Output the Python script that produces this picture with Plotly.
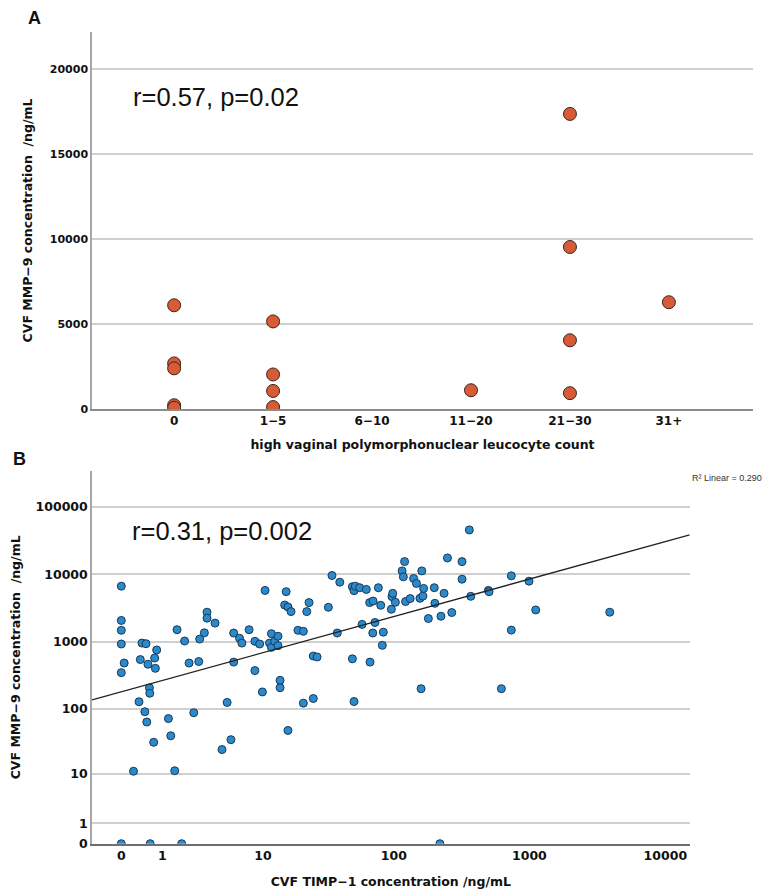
import numpy as np
import plotly.graph_objects as go

# ── Panel A: MMP-9 by high vaginal PMN count ────────────────────────────────
pmn_levels = ["0", "1−5", "6−10", "11−20", "21−30", "31+"]
pmn_category = ["0", "0", "0", "0", "0",
                "1−5", "1−5", "1−5", "1−5",
                "11−20",
                "21−30", "21−30", "21−30", "21−30",
                "31+"]
mmp9_a = [6110, 2690, 2400, 230, 80,
          5160, 2040, 1070, 120,
          1110,
          17370, 9540, 4050, 940,
          6290]
a_ticks = [0, 5000, 10000, 15000, 20000]

# ── Panel B: MMP-9 vs TIMP-1 (ng/mL) ────────────────────────────────────────
timp1 = [0, 0, 0, 0, 0.05, 0, 0.38, 0.42, 0.52, 0.82,
         0.57, 0.76, 0.78, 0.61, 0.62, 0.35, 0.49, 0.54, 0.73, 0.23,
         1.22, 1.31, 1.47, 1.57, 1.92, 2.15, 2.41, 2.71, 2.77, 3.08,
         3.27, 3.27, 3.89, 4.5, 5.0, 5.4, 5.7, 5.7, 6.4, 6.7,
         7.7, 8.6, 8.6, 9.4, 9.9, 10.4, 11.3, 11.7, 11.7, 12.4,
         13.2, 13.2, 13.7, 13.7, 14.9, 15.3, 15.8, 15.8, 16.7, 18.9,
         20.8, 20.8, 22.1, 23.0, 24.8, 26.5, 24.8, 32.3, 34.4, 37.7,
         39.4, 50.4, 49, 49, 50.4, 51.6, 55.6, 57.9, 62.3, 66,
         70, 66.4, 69.6, 72.3, 76.6, 79.8, 83.4, 82, 95.7, 96.8,
         98, 102.5, 115, 117.5, 120, 122, 132, 140, 147, 156,
         161, 164, 166, 180, 199, 201, 223, 235, 249, 268,
         319, 319, 361, 370, 499, 505, 736, 736, 994, 1113,
         3900, 159, 622, 219, 0, 0.63, 1.78]
mmp9_b = [6650, 2060, 1470, 920, 480, 345, 540, 950, 930, 750,
          460, 570, 400, 205, 170, 127, 90, 63, 31, 10.9,
          71, 39, 11.1, 1500, 1020, 480, 87, 505, 1090, 1350,
          2730, 2230, 1880, 24, 124, 34, 1340, 495, 1120, 950,
          1500, 1010, 370, 920, 178, 5750, 950, 1310, 820, 1010,
          1200, 870, 265, 206, 3490, 5510, 3270, 47, 2790, 1470,
          1420, 121, 2790, 3790, 610, 590, 142, 3230, 9570, 1340,
          7620, 128, 554, 6520, 5700, 6650, 6310, 1800, 5950, 3790,
          4000, 495, 1340, 1920, 6310, 3460, 1380, 880, 3020, 4650,
          5200, 3830, 11200, 9160, 15400, 3930, 4350, 8650, 7300, 4390,
          11200, 4740, 6160, 2200, 6310, 3700, 2380, 5200, 17450, 2700,
          15400, 8440, 45500, 4700, 5750, 5500, 9470, 1480, 7890, 2950,
          2730, 199, 199, 0, 0, 0, 0]
b_xticks = [0, 1, 10, 100, 1000, 10000]
b_yticks = [0, 1, 10, 100, 1000, 10000, 100000]

# SPSS "R2 Linear" fit, in safe-log units
fit_intercept = 2.256
fit_slope = 0.557


def safe_log(v):
    """Log scale that keeps zero on the axis: log10(v + 1)."""
    return np.log10(np.asarray(v, dtype=float) + 1)


W, H = 772, 893
FONT = "DejaVu Sans"
ORANGE = "#D65B36"
BLUE = "#2B8ACB"
GRID = "#cfcfcf"

b_xrange = [-0.2154, 4.179]
b_yrange = [0, 5.532]

fig = go.Figure()

fig.add_trace(go.Scatter(
    x=pmn_category, y=mmp9_a, mode="markers",
    marker=dict(size=13, color=ORANGE, line=dict(color="#3b2418", width=1)),
    xaxis="x", yaxis="y", showlegend=False,
))

fig.add_trace(go.Scatter(
    x=safe_log(timp1), y=safe_log(mmp9_b), mode="markers",
    marker=dict(size=8, color=BLUE, line=dict(color="#173a57", width=1)),
    xaxis="x2", yaxis="y2", showlegend=False,
))

fit_x = np.array(b_xrange)
fig.add_trace(go.Scatter(
    x=fit_x, y=fit_intercept + fit_slope * fit_x, mode="lines",
    line=dict(color="#222222", width=1.3),
    xaxis="x2", yaxis="y2", showlegend=False,
))

tick_bold = dict(family=FONT, size=12, color="#111111", weight="bold")
title_bold = dict(family=FONT, size=12.5, color="#111111", weight="bold")

fig.update_layout(
    width=W, height=H,
    margin=dict(l=0, r=0, t=0, b=0),
    paper_bgcolor="white", plot_bgcolor="white",
    xaxis=dict(
        domain=[84 / W, 745 / W], anchor="y",
        type="category", categoryorder="array", categoryarray=pmn_levels,
        range=[-0.83, 5.85], showgrid=False, zeroline=False,
        showline=True, linecolor="#8c8c8c", linewidth=1.5, ticks="",
        tickfont=tick_bold,
        title=dict(text="high vaginal polymorphonuclear leucocyte count",
                   font=title_bold, standoff=13),
    ),
    yaxis=dict(
        domain=[1 - 404.3 / H, 1 - 24 / H], anchor="x",
        range=[0, 22200], tickvals=a_ticks, ticktext=[str(t) for t in a_ticks],
        showgrid=True, gridcolor=GRID, gridwidth=1.5, zeroline=False,
        showline=True, linecolor="#a6a6a6", linewidth=1.5, ticks="",
        tickfont=dict(tick_bold, size=11), ticklabelstandoff=0,
        title=dict(text="CVF MMP−9 concentration \u00a0/ng/mL",
                   font=title_bold, standoff=14),
    ),
    xaxis2=dict(
        domain=[84 / W, 681.7 / W], anchor="y2",
        range=b_xrange, tickvals=safe_log(b_xticks),
        ticktext=[str(t) for t in b_xticks],
        showgrid=False, zeroline=False,
        showline=True, linecolor="#6e6e6e", linewidth=1.5, ticks="",
        tickfont=dict(tick_bold, size=12.5),
        title=dict(text="CVF TIMP−1 concentration /ng/mL",
                   font=title_bold, standoff=15),
    ),
    yaxis2=dict(
        domain=[1 - 842.3 / H, 1 - 466.7 / H], anchor="x2",
        range=b_yrange, tickvals=safe_log(b_yticks),
        ticktext=[str(t) for t in b_yticks],
        showgrid=True, gridcolor=GRID, gridwidth=1.5, zeroline=False,
        showline=True, linecolor="#a6a6a6", linewidth=1.5, ticks="",
        tickfont=dict(tick_bold, size=12.5), ticklabelstandoff=0,
        title=dict(text="CVF MMP−9 concentration \u00a0/ng/mL",
                   font=title_bold, standoff=16),
    ),
    annotations=[
        dict(text="A", x=18 / W, y=1 - 10 / H, xref="paper", yref="paper",
             xanchor="left", yanchor="middle", showarrow=False,
             font=dict(family="Liberation Sans", size=18, color="#111111", weight="bold")),
        dict(text="B", x=3 / W, y=1 - 455 / H, xref="paper", yref="paper",
             xanchor="left", yanchor="middle", showarrow=False,
             font=dict(family="Liberation Sans", size=18, color="#111111", weight="bold")),
        dict(text="r=0.57, p=0.02", x=123 / W, y=1 - 90 / H, xref="paper", yref="paper",
             xanchor="left", yanchor="middle", showarrow=False,
             font=dict(family="Liberation Sans", size=25.5, color="#111111")),
        dict(text="r=0.31, p=0.002", x=121.7 / W, y=1 - 526.7 / H, xref="paper", yref="paper",
             xanchor="left", yanchor="middle", showarrow=False,
             font=dict(family="Liberation Sans", size=25.5, color="#111111")),
        dict(text="R² Linear = 0.290", x=682 / W, y=1 - 473.3 / H,
             xref="paper", yref="paper", xanchor="left", yanchor="middle",
             showarrow=False,
             font=dict(family="Liberation Sans", size=9, color="#333333")),
    ],
)

fig.write_html("out.html")
